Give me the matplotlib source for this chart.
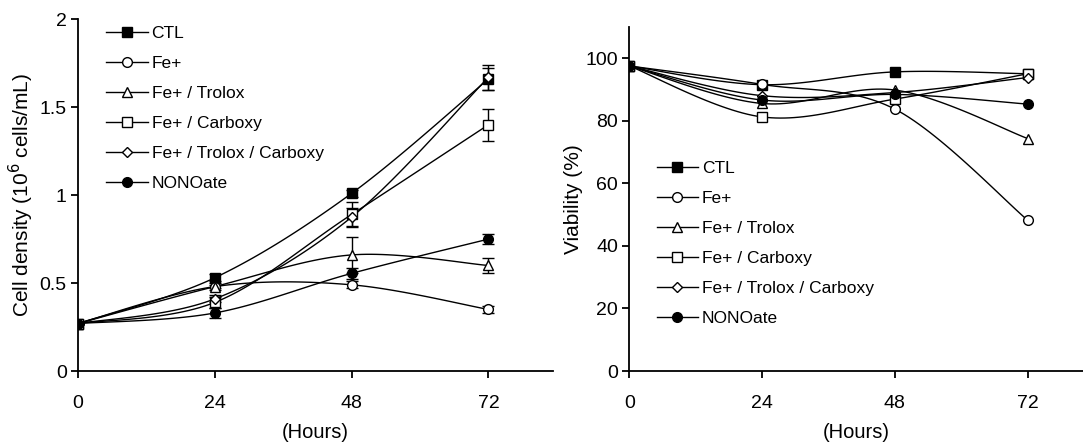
import numpy as np
import matplotlib
matplotlib.use('Agg')
import matplotlib.pyplot as plt

plt.rcParams['font.family'] = ['Liberation Sans', 'DejaVu Sans']

hours = [0, 24, 48, 72]
labels = ['CTL', 'Fe+', 'Fe+ / Trolox', 'Fe+ / Carboxy', 'Fe+ / Trolox / Carboxy', 'NONOate']

# Cell density (10^6 cells/mL)
density_ctl = [0.27, 0.53, 1.01, 1.66]
density_fe = [0.27, 0.48, 0.49, 0.35]
density_trolox = [0.27, 0.48, 0.66, 0.60]
density_carboxy = [0.27, 0.39, 0.89, 1.40]
density_tc = [0.27, 0.41, 0.875, 1.67]
density_nono = [0.27, 0.33, 0.555, 0.75]

err_ctl = [0, 0.02, 0.02, 0.06]
err_fe = [0, 0.01, 0.02, 0.02]
err_trolox = [0, 0.02, 0.10, 0.04]
err_carboxy = [0, 0.03, 0.07, 0.09]
err_tc = [0, 0.02, 0.05, 0.07]
err_nono = [0, 0.03, 0.03, 0.03]

# Viability (%)
viab_ctl = [97.5, 91.5, 95.6, 95.0]
viab_fe = [97.5, 91.6, 83.7, 48.2]
viab_trolox = [97.5, 85.5, 89.8, 74.3]
viab_carboxy = [97.5, 81.2, 86.9, 95.0]
viab_tc = [97.5, 88.0, 89.0, 93.8]
viab_nono = [97.5, 86.6, 88.4, 85.3]

markers = ['s', 'o', '^', 's', 'D', 'o']
filled = [True, False, False, False, False, True]
msizes = [7, 7, 7, 7, 5, 7]


def smooth(x, y, n=30):
    # Catmull-Rom style smoothing as used by spreadsheet "smoothed line"
    x = np.asarray(x, float)
    y = np.asarray(y, float)
    px = np.concatenate([[x[0]], x, [x[-1]]])
    py = np.concatenate([[y[0]], y, [y[-1]]])
    xs, ys = [], []
    t = np.linspace(0, 1, n)
    for i in range(1, len(px) - 2):
        p0 = np.array([px[i], py[i]])
        p3 = np.array([px[i + 1], py[i + 1]])
        c1 = p0 + (np.array([px[i + 1], py[i + 1]]) - np.array([px[i - 1], py[i - 1]])) / 6
        c2 = p3 - (np.array([px[i + 2], py[i + 2]]) - np.array([px[i], py[i]])) / 6
        b = ((1 - t) ** 3)[:, None] * p0 + (3 * (1 - t) ** 2 * t)[:, None] * c1 \
            + (3 * (1 - t) * t ** 2)[:, None] * c2 + (t ** 3)[:, None] * p3
        xs.extend(b[:, 0])
        ys.extend(b[:, 1])
    return xs, ys


def draw(ax, series, errs=None):
    handles = []
    for i, y in enumerate(series):
        sx, sy = smooth(hours, y)
        ax.plot(sx, sy, color='black', lw=1.0, zorder=2)
        if errs is not None:
            ax.errorbar(hours, y, yerr=errs[i], fmt='none', ecolor='black',
                        elinewidth=1.0, capsize=4, capthick=1.0, zorder=3)
        fc = 'black' if filled[i] else 'white'
        ax.plot(hours, y, linestyle='none', marker=markers[i], ms=msizes[i],
                mfc=fc, mec='black', mew=1.0, zorder=4)
        h, = ax.plot([], [], color='black', lw=1.0, marker=markers[i], ms=msizes[i],
                     mfc=fc, mec='black', mew=1.0)
        handles.append(h)
    return handles


fig = plt.figure(figsize=(10.83, 4.47), dpi=100)
ax1 = fig.add_axes([0.072, 0.170, 0.439, 0.787])
ax2 = fig.add_axes([0.581, 0.170, 0.419, 0.770])

h1 = draw(ax1, [density_ctl, density_fe, density_trolox, density_carboxy, density_tc, density_nono],
          [err_ctl, err_fe, err_trolox, err_carboxy, err_tc, err_nono])
h2 = draw(ax2, [viab_ctl, viab_fe, viab_trolox, viab_carboxy, viab_tc, viab_nono])

for ax in (ax1, ax2):
    for s in ('top', 'right'):
        ax.spines[s].set_visible(False)
    for s in ('left', 'bottom'):
        ax.spines[s].set_linewidth(1.3)
    ax.set_xticks(hours)
    ax.tick_params(labelsize=14, length=5, width=1.3, direction='out')
    ax.tick_params(axis='x', pad=12)
    ax.tick_params(axis='y', pad=3)
    ax.set_xlabel('(Hours)', fontsize=14.5, labelpad=8)

ax1.set_xlim(0, 83.4)
ax1.set_ylim(0, 2)
ax1.set_yticks([0, 0.5, 1, 1.5, 2])
ax1.set_yticklabels(['0', '0.5', '1', '1.5', '2'])
ax1.set_ylabel('Cell density (10$^{6}$ cells/mL)', fontsize=15, labelpad=3)

ax2.set_xlim(0, 82)
ax2.set_ylim(0, 110)
ax2.set_yticks([0, 20, 40, 60, 80, 100])
ax2.set_ylabel('Viability (%)', fontsize=15, labelpad=2)

ax1.legend(h1, labels, loc='upper left', bbox_to_anchor=(0.027, 1.026), frameon=False,
           fontsize=12.5, handlelength=2.4, labelspacing=0.86, handletextpad=0.2)
ax2.legend(h2, labels, loc='upper left', bbox_to_anchor=(0.026, 0.657), frameon=False,
           fontsize=12.5, handlelength=2.4, labelspacing=0.86, handletextpad=0.2)

fig.savefig('out.png', dpi=100)
